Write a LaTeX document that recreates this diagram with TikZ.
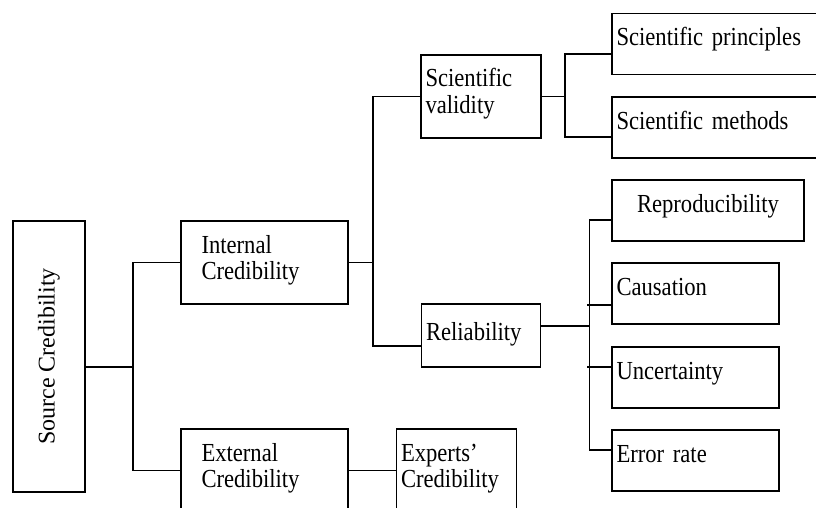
\documentclass[tikz,border=0pt]{standalone}
\usepackage{fontspec}
\setmainfont{Liberation Serif}
\newfontfamily\narrowserif[FakeStretch=0.87]{Liberation Serif}
\usetikzlibrary{positioning}

\begin{document}
\begin{tikzpicture}[x=1pt,y=-1pt,on grid,line width=1.7pt,
  frame/.style={draw},
  box/.style={frame,inner xsep=4.5pt,inner ysep=0pt,align=left,text height=32pt,font={\narrowserif\fontsize{26}{26.5}\selectfont\spaceskip=5.5pt plus 1pt minus 1pt}},
  low/.style={text depth=29pt},
  tall/.style={text depth=51pt}]
  \useasboundingbox (0,0) rectangle (816,508);
  \clip (0,0) rectangle (816,508);
  \node[frame,rotate=90,minimum width=271pt,minimum height=72pt,font={\fontsize{24}{28}\selectfont}] (src) at (49,356.5) {Source Credibility};
  \node[box,tall,inner xsep=20.5pt,text width=126pt] (ic) at (264.5,262.5) {Internal\\Credibility};
  \node[box,tall,inner xsep=20.5pt,text width=126pt] (ec) [below=208pt of ic] {External\\Credibility};
  \node[box,tall,text width=111pt] (sv) at (481,96.5) {Scientific\\validity};
  \node[box,text height=36pt,text depth=27pt,text width=110pt] (rel) [below=239pt of sv] {Reliability};
  \node[box,tall,text width=111pt] (ex) [right=192pt of ec] {Experts’\\Credibility};
  \node[box,low,text width=211pt] (sp) at (722,44) {Scientific principles};
  \node[box,low,text width=211pt] (sm) [below=83.5pt of sp] {Scientific methods};
  \node[box,low,align=center,text width=183pt] (rp) at (708,210.5) {Reproducibility};
  \node[box,low,text width=158pt] (ca) at (695.5,293.5) {Causation};
  \node[box,low,text width=158pt] (un) [below=84pt of ca] {Uncertainty};
  \node[box,low,text width=158pt] (er) [below=83pt of un] {Error rate};
  \coordinate (j1) at (133,367);
  \draw (src.south |- j1) -- (j1);
  \draw (ic.west) -| (j1) |- (ec.west);
  \draw (ec) -- (ex);
  \coordinate[right=24pt of ic.east] (j2);
  \draw (ic.east) -- (j2);
  \draw (sv.west) -| (j2) |- ([yshift=-10.5pt]rel.west);
  \coordinate[right=23pt of sv.east] (j3);
  \draw (sv.east) -- (j3);
  \draw ([yshift=-10pt]sp.west) -| (j3) |- ([yshift=-9.5pt]sm.west);
  \coordinate[right=48pt of rel.east,yshift=9.5pt] (j4);
  \draw ([yshift=9.5pt]rel.east) -- (j4);
  \draw ([yshift=-9.5pt]rp.west) -| (j4) |- ([yshift=10.5pt]er.west);
  \draw ([yshift=-11.5pt]ca.west) -- +(-24pt,0);
  \draw ([yshift=10.5pt]un.west) -- +(-24pt,0);
\end{tikzpicture}
\end{document}
